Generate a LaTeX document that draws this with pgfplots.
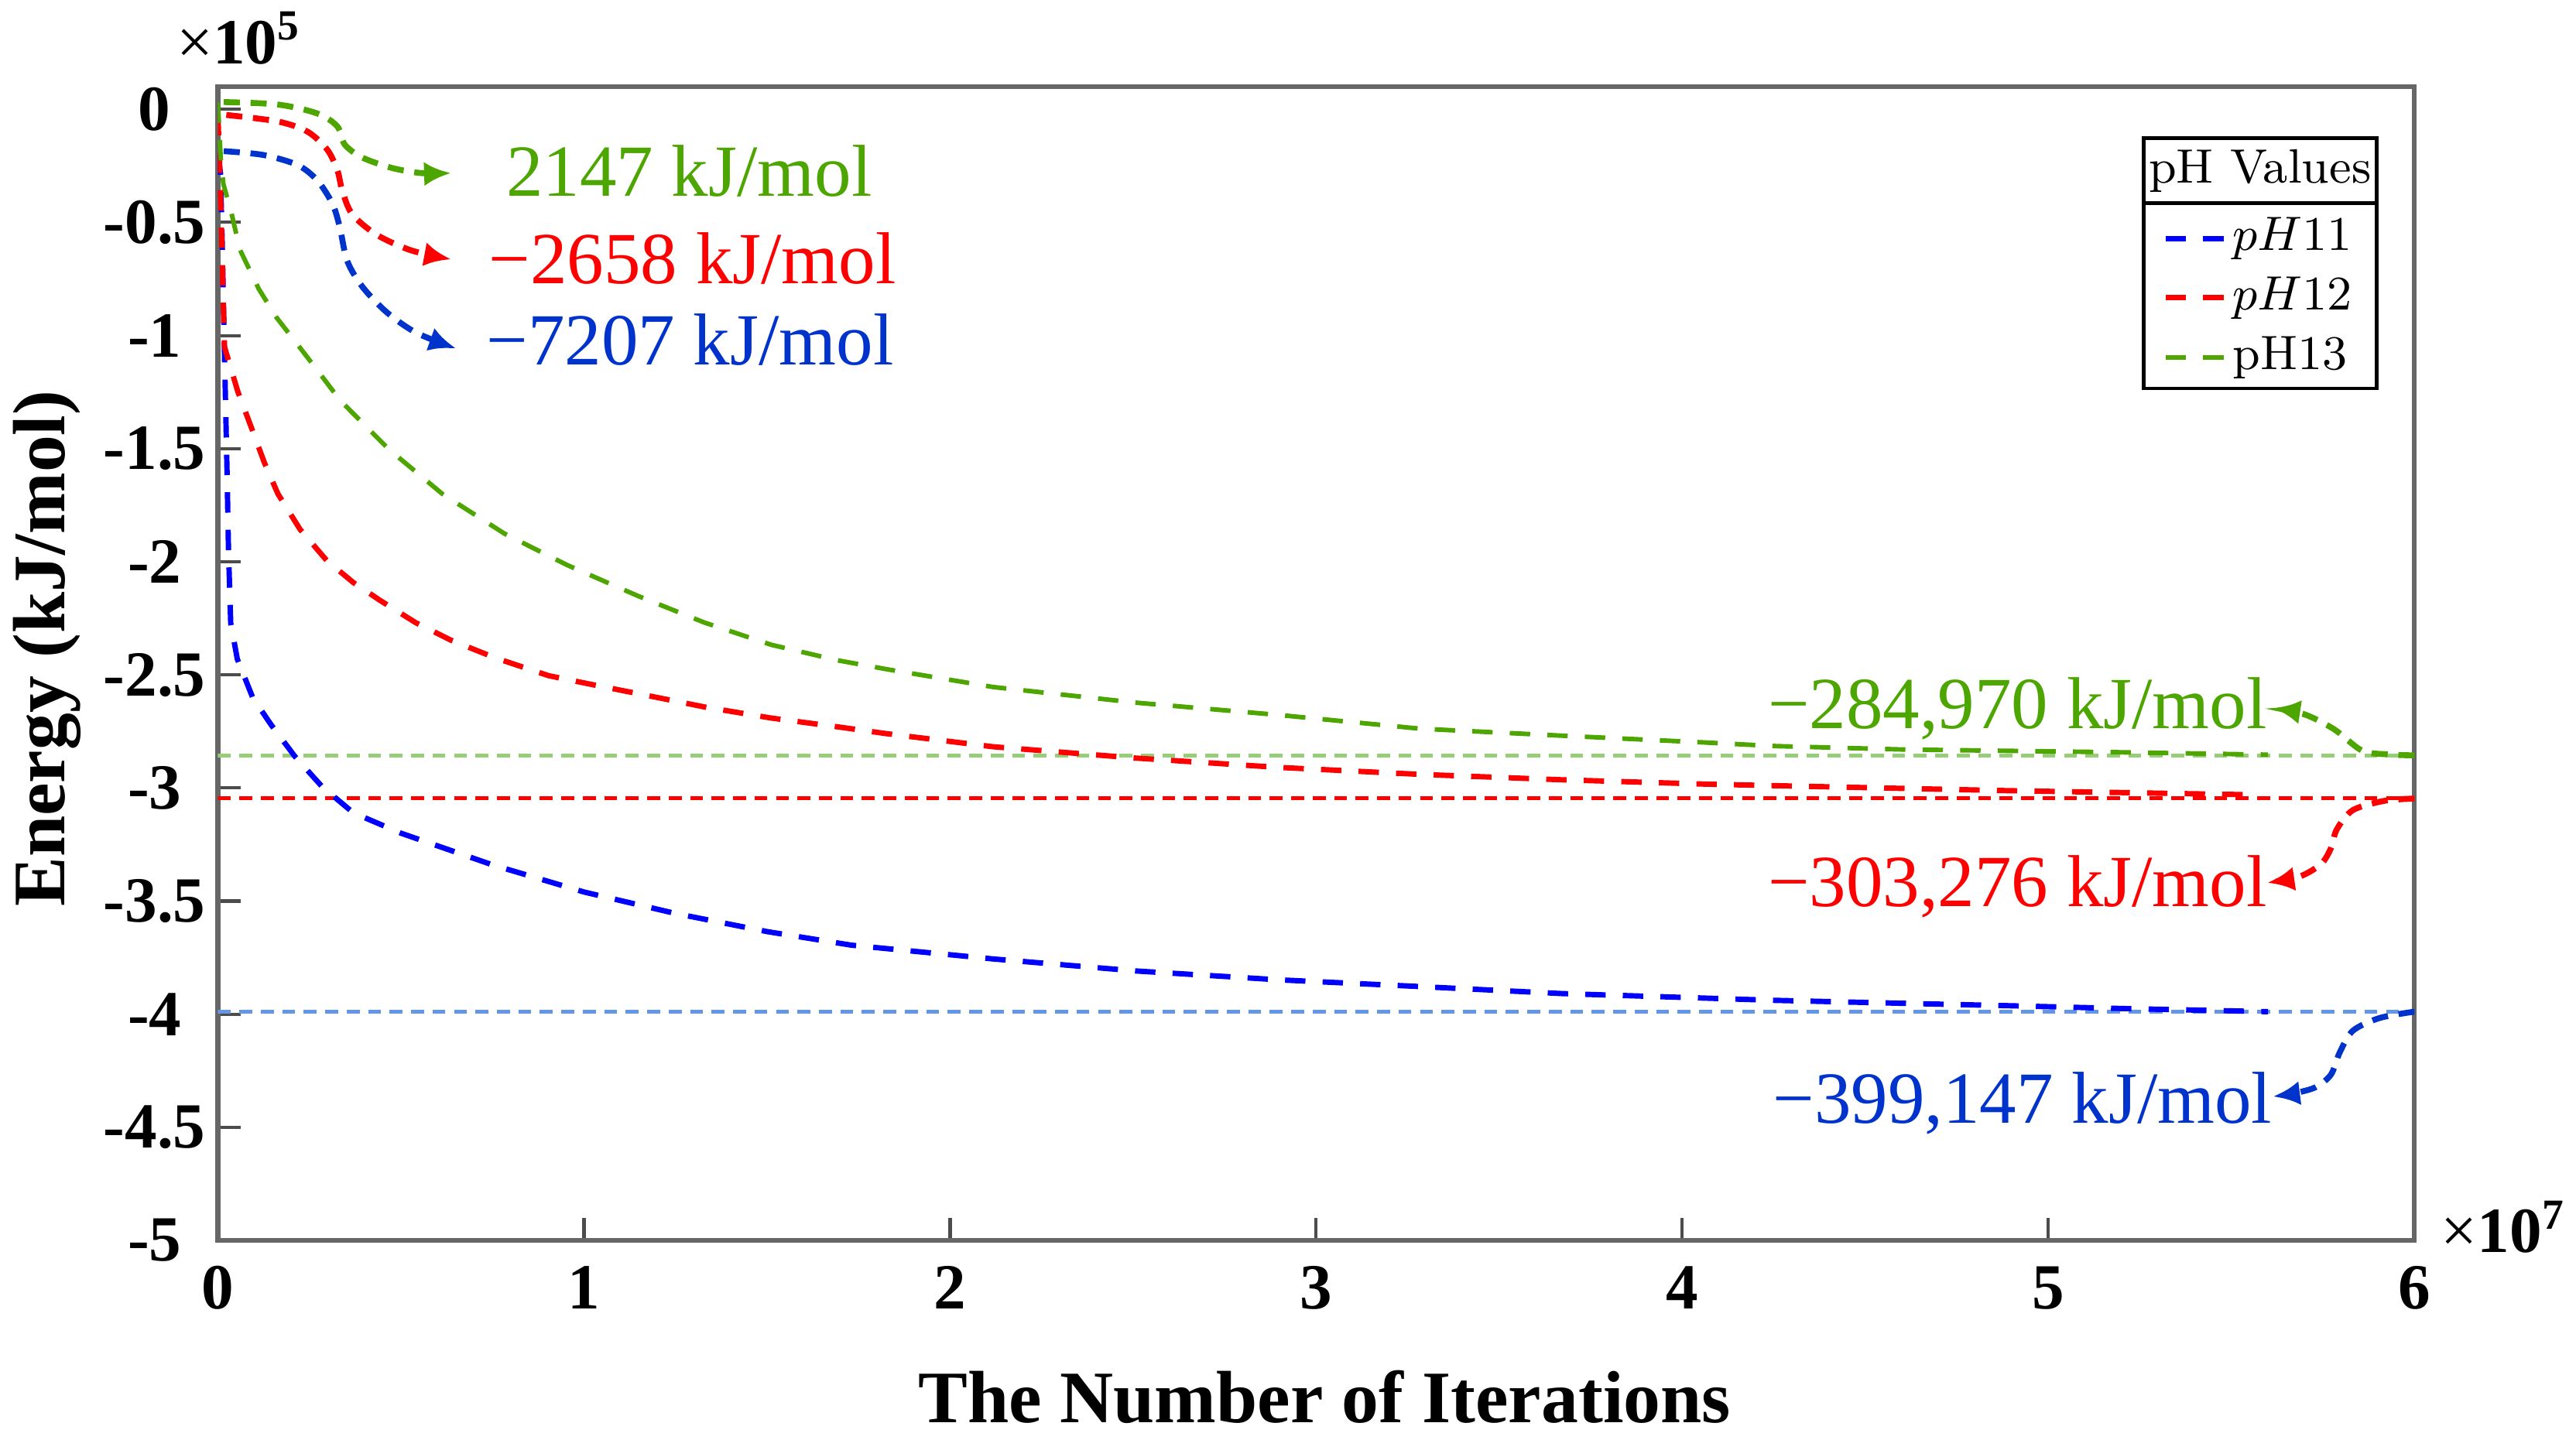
\documentclass[border=0pt]{standalone}
\usepackage{fontspec}
\newfontfamily\tnr{Liberation Serif}
\usepackage{pgfplots}
\pgfplotsset{compat=1.18}
\usetikzlibrary{arrows.meta}

\definecolor{cblue}{RGB}{0,0,255}
\definecolor{cred}{RGB}{255,0,0}
\definecolor{cgreen}{RGB}{77,166,0}
\definecolor{tblue}{RGB}{0,51,204}
\definecolor{rblue}{RGB}{100,150,230}
\definecolor{rgreen}{RGB}{150,205,120}

\newcommand{\annfont}{\tnr\fontsize{13.7}{16}\selectfont}

\begin{document}
\begin{tikzpicture}
\begin{axis}[
	at={(0pt,0pt)}, anchor=south west,
	scale only axis,
	width=409.3pt, height=215.05pt,
	xmin=0, xmax=6, ymin=-5, ymax=0.1,
	xtick={0,1,2,3,4,5,6},
	xticklabels={0,1,2,3,4,5,6},
	ytick={0,-0.5,-1,-1.5,-2,-2.5,-3,-3.5,-4,-4.5,-5},
	yticklabels={0,-0.5,-1,-1.5,-2,-2.5,-3,-3.5,-4,-4.5,-5},
	tick pos=left, tick align=inside,
	major tick length=4.2pt,
	every tick/.style={black!70, line width=0.6pt},
	axis line style={black!60, line width=0.9pt},
	ticklabel style={font=\tnr\bfseries\fontsize{12}{12}\selectfont},
	xticklabel style={anchor=base, yshift=-12.8pt},
	yticklabel style={anchor=center, xshift=-11.8pt},
	scaled ticks=false,
	xlabel={The Number of Iterations},
	ylabel={Energy (kJ/mol)},
	xlabel style={at={(axis description cs:0.5038,0)}, anchor=base, yshift=-33.9pt,
		font=\tnr\bfseries\fontsize{13.8}{16}\selectfont},
	ylabel style={at={(axis description cs:0,0.513)}, anchor=base, yshift=28.5pt,
		font=\tnr\bfseries\fontsize{13.8}{16}\selectfont},
	legend style={at={(axis description cs:0.885,0.8891)}, anchor=north west,
		draw=none, fill=none, inner sep=0pt, row sep=2.56pt,
		nodes={inner sep=0pt, text height=6.5pt, text depth=2pt},
		column sep=1pt, font=\fontsize{9}{11}\selectfont},
	legend cell align=left,
	legend image code/.code={\draw[#1] (0pt,0pt) -- (11pt,0pt);},
]

% reference (converged) levels
\addplot[forget plot, rgreen, line width=0.7pt, dash pattern=on 2.4pt off 1.6pt]
	coordinates {(0,-2.856) (6,-2.856)};
\addplot[forget plot, cred, line width=0.7pt, dash pattern=on 2.4pt off 1.6pt]
	coordinates {(0,-3.044) (6,-3.044)};
\addplot[forget plot, rblue, line width=0.7pt, dash pattern=on 2.4pt off 1.6pt]
	coordinates {(0,-3.989) (6,-3.989)};

% pH 11
\addplot[cblue, line width=1pt, dash pattern=on 3.8pt off 3.2pt] coordinates {
	(0,-0.20) (0.007,-0.28) (0.012,-0.60) (0.018,-1.08) (0.025,-1.60)
	(0.029,-1.95) (0.035,-2.27) (0.053,-2.43) (0.095,-2.60) (0.145,-2.72)
	(0.21,-2.86) (0.285,-2.995) (0.37,-3.11) (0.5,-3.20) (0.75,-3.34)
	(1.0,-3.46) (1.25,-3.555) (1.5,-3.635) (1.73,-3.695) (2.118,-3.756)
	(2.507,-3.809) (2.895,-3.848) (3.283,-3.878) (3.671,-3.909) (4.06,-3.929)
	(4.254,-3.939) (4.6,-3.952) (4.9,-3.963) (5.2,-3.975) (5.6,-3.989)
};
\addlegendentry{$pH11$}

% pH 12
\addplot[cred, line width=1pt, dash pattern=on 3.8pt off 3.2pt] coordinates {
	(0,-0.025) (0.004,-0.20) (0.01,-0.55) (0.018,-1.05) (0.0545,-1.248)
	(0.091,-1.405) (0.127,-1.562) (0.164,-1.70) (0.2245,-1.857) (0.297,-1.994)
	(0.37,-2.092) (0.443,-2.171) (0.54,-2.269) (0.637,-2.347) (0.759,-2.426)
	(0.904,-2.504) (1.025,-2.544) (1.147,-2.583) (1.329,-2.642) (1.511,-2.691)
	(1.693,-2.73) (1.826,-2.76) (2.118,-2.818) (2.507,-2.868) (2.895,-2.909)
	(3.283,-2.94) (3.671,-2.964) (4.06,-2.983) (4.254,-2.99) (4.888,-3.012)
	(5.55,-3.03)
};
\addlegendentry{$pH12$}

% pH 13
\addplot[cgreen, line width=0.85pt, dash pattern=on 3.8pt off 3.2pt] coordinates {
	(0,0.03) (0.004,-0.10) (0.008,-0.22) (0.015,-0.33) (0.039,-0.472)
	(0.06,-0.62) (0.112,-0.795) (0.16,-0.92) (0.22,-1.045) (0.27,-1.15)
	(0.334,-1.287) (0.467,-1.503) (0.613,-1.70) (0.783,-1.876) (0.953,-2.014)
	(1.147,-2.151) (1.329,-2.269) (1.511,-2.367) (1.693,-2.436) (1.826,-2.475)
	(2.118,-2.554) (2.507,-2.623) (2.895,-2.677) (3.283,-2.738) (3.671,-2.769)
	(4.06,-2.799) (4.254,-2.815) (4.6,-2.83) (5.18,-2.842) (5.6,-2.853)
};
\addlegendentry{pH13}

% annotation arrows, initial energies
\addplot[forget plot, smooth, cgreen, line width=1.1pt, dash pattern=on 3pt off 2pt,
	-{Latex[length=5pt,width=4.5pt]}] coordinates {
	(0.016,0.032) (0.164,0.021) (0.2725,-0.019) (0.3265,-0.076) (0.3465,-0.156)
	(0.394,-0.213) (0.4746,-0.259) (0.5556,-0.282) (0.6366,-0.282)
};
\addplot[forget plot, smooth, cred, line width=1.1pt, dash pattern=on 3pt off 2pt,
	-{Latex[length=5pt,width=4.5pt]}] coordinates {
	(0.023,-0.025) (0.164,-0.054) (0.245,-0.099) (0.299,-0.179) (0.3265,-0.27)
	(0.34,-0.361) (0.367,-0.464) (0.434,-0.555) (0.5285,-0.624) (0.6366,-0.663)
};
\addplot[forget plot, smooth, tblue, line width=1.1pt, dash pattern=on 3pt off 2pt,
	-{Latex[length=5pt,width=4.5pt]}] coordinates {
	(0.016,-0.185) (0.124,-0.202) (0.2186,-0.247) (0.2725,-0.316) (0.313,-0.418)
	(0.333,-0.521) (0.353,-0.669) (0.394,-0.783) (0.461,-0.897) (0.542,-0.988)
	(0.65,-1.057)
};

% annotation arrows, final energies
\addplot[forget plot, smooth, cgreen, line width=1.1pt, dash pattern=on 3pt off 2pt,
	-{Latex[length=5pt,width=4.5pt]}] coordinates {
	(6.0,-2.856) (5.93,-2.852) (5.857,-2.835) (5.78,-2.74) (5.70,-2.675) (5.615,-2.647)
};
\addplot[forget plot, smooth, cred, line width=1.1pt, dash pattern=on 3pt off 2pt,
	-{Latex[length=5pt,width=4.5pt]}] coordinates {
	(6.0,-3.047) (5.918,-3.057) (5.832,-3.098) (5.788,-3.183) (5.772,-3.266)
	(5.745,-3.336) (5.686,-3.392) (5.599,-3.419)
};
\addplot[forget plot, smooth, tblue, line width=1.1pt, dash pattern=on 3pt off 2pt,
	-{Latex[length=5pt,width=4.5pt]}] coordinates {
	(6.0,-3.989) (5.905,-4.017) (5.832,-4.073) (5.796,-4.169) (5.772,-4.267)
	(5.73,-4.323) (5.671,-4.35) (5.614,-4.364)
};

\node[anchor=base west, inner sep=0pt, text=cgreen, font=\annfont] at (axis cs:0.785,-0.384) {2147 kJ/mol};
\node[anchor=base west, inner sep=0pt, text=cred, font=\annfont] at (axis cs:0.738,-0.772) {−2658 kJ/mol};
\node[anchor=base west, inner sep=0pt, text=tblue, font=\annfont] at (axis cs:0.731,-1.131) {−7207 kJ/mol};
\node[anchor=base east, inner sep=0pt, text=cgreen, font=\annfont] at (axis cs:5.60,-2.738) {−284,970 kJ/mol};
\node[anchor=base east, inner sep=0pt, text=cred, font=\annfont] at (axis cs:5.60,-3.523) {−303,276 kJ/mol};
\node[anchor=base east, inner sep=0pt, text=tblue, font=\annfont] at (axis cs:5.614,-4.483) {−399,147 kJ/mol};

\end{axis}

% multipliers
\node[anchor=base west, inner sep=0pt, font=\tnr\fontsize{12}{12}\selectfont]
	at (-7.9pt,219.35pt) {×\textbf{10}\textsuperscript{\textbf{5}}};
\node[anchor=base west, inner sep=0pt, font=\tnr\fontsize{12}{12}\selectfont]
	at (414.1pt,-2.2pt) {×\textbf{10}\textsuperscript{\textbf{7}}};

% legend frame and title
\draw[line width=0.7pt] (358.8pt,158.8pt) rectangle (402.2pt,205.4pt);
\draw[line width=0.7pt] (358.8pt,193.3pt) -- (402.2pt,193.3pt);
\node[inner sep=0pt, font=\fontsize{9}{11}\selectfont] at (380.5pt,199.3pt) {pH Values};

\pgfresetboundingbox
\path[use as bounding box] (-40.6pt,-37.2pt) rectangle (439.4pt,231.2pt);
\end{tikzpicture}
\end{document}
